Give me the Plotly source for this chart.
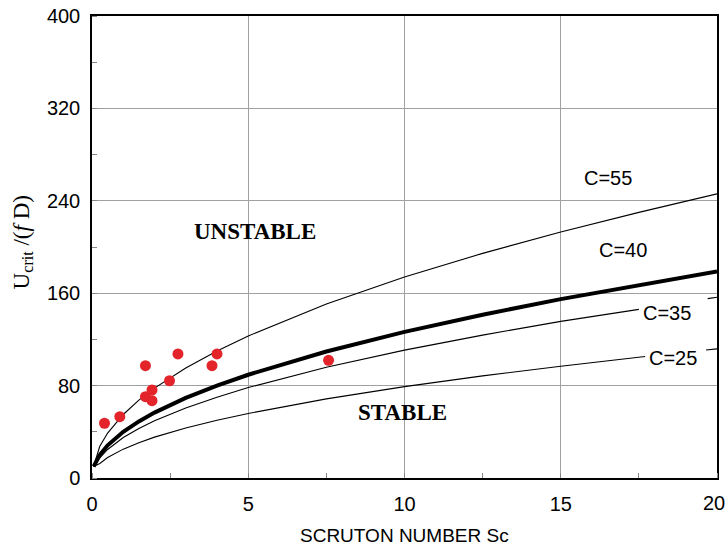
import plotly.graph_objects as go

# Curve data
x_full = [0.05, 0.25, 0.5, 1, 1.5, 2, 3, 4, 5, 7.5, 10, 12.5, 15, 17.5, 20]
c55_y = [10, 27.5, 38.9, 55, 67.4, 77.8, 95.3, 110, 123, 150.6, 174, 194.5, 213, 230, 246]
c40_y = [10, 20, 28.3, 40, 49, 56.6, 69.3, 80, 89.4, 109.5, 126.5, 141.4, 154.9, 167.3, 178.9]

x_c35 = [0.05, 0.25, 0.5, 1, 1.5, 2, 3, 4, 5, 7.5, 10, 12.5, 15, 17.5]
c35_y = [10, 17.5, 24.7, 35, 42.9, 49.5, 60.6, 70, 78.3, 95.9, 110.7, 123.7, 135.6, 146]
x_c35_stub = [19.7, 20]
c35_stub_y = [155.3, 156.5]

x_c25 = [0.05, 0.25, 0.5, 1, 1.5, 2, 3, 4, 5, 7.5, 10, 12.5, 15, 17.7]
c25_y = [10, 12.5, 17.7, 25, 30.6, 35.4, 43.3, 50, 55.9, 68.5, 79.1, 88.4, 96.8, 105.2]
x_c25_stub = [19.65, 20]
c25_stub_y = [110.8, 111.8]

# Measured points
pts_x = [0.40, 0.89, 1.71, 1.71, 1.92, 1.92, 2.48, 2.75, 3.84, 4.00, 7.57]
pts_y = [47.4, 53.1, 97.2, 70.4, 76.2, 66.9, 84.2, 107.4, 97.2, 107.4, 101.9]

x_ticks = [0, 5, 10, 15]
x_last_tick = 20
y_ticks = [0, 80, 160, 240, 320, 400]

curve_labels = ["C=55", "C=40", "C=35", "C=25"]
label_x = [16.5, 17.0, 18.4, 18.6]
label_y = [259.7, 197.4, 142.9, 104]

fig = go.Figure()

def line(x, y, w):
    fig.add_trace(go.Scatter(x=x, y=y, mode="lines",
                             line=dict(color="black", width=w),
                             hoverinfo="skip", showlegend=False))

line(x_full, c55_y, 1.1)
line(x_c35, c35_y, 1.1)
line(x_c35_stub, c35_stub_y, 1.1)
line(x_c25, c25_y, 1.1)
line(x_c25_stub, c25_stub_y, 1.1)
line(x_full, c40_y, 4)

fig.add_trace(go.Scatter(x=pts_x, y=pts_y, mode="markers",
                         marker=dict(color="#e3242b", size=11),
                         showlegend=False))

for t, lx, ly in zip(curve_labels, label_x, label_y):
    fig.add_annotation(x=lx, y=ly, text=t, showarrow=False,
                       font=dict(family="Liberation Sans, Arial", size=20, color="black"),
                       xanchor="center", yanchor="middle")

fig.add_annotation(x=5.22, y=213, text="<b>UNSTABLE</b>", showarrow=False,
                   font=dict(family="Liberation Serif, Times New Roman", size=23, color="black"))
fig.add_annotation(x=9.95, y=57, text="<b>STABLE</b>", showarrow=False,
                   font=dict(family="Liberation Serif, Times New Roman", size=23, color="black"))

# last x tick label (sits partly past the plot edge)
fig.add_annotation(x=x_last_tick, y=0, text=str(x_last_tick), showarrow=False,
                   xanchor="center", yanchor="middle", xshift=-3, yshift=-25,
                   font=dict(family="Liberation Sans, Arial", size=20, color="black"))

# axis titles
fig.add_annotation(xref="paper", yref="paper", x=(23 - 92) / 625, y=0.51,
                   text="U<sub>crit</sub> /(<i>f</i> D)", textangle=-90, showarrow=False,
                   font=dict(family="Liberation Serif, Times New Roman", size=23, color="black"),
                   xanchor="center", yanchor="middle")
fig.add_annotation(xref="paper", yref="paper", x=0.5, y=(478 - 535) / 462,
                   text="SCRUTON NUMBER Sc", showarrow=False,
                   font=dict(family="Liberation Sans, Arial", size=19, color="black"),
                   xanchor="center", yanchor="middle")

fig.update_layout(
    width=727, height=546,
    margin=dict(l=92, r=10, t=16, b=68, autoexpand=False),
    paper_bgcolor="white", plot_bgcolor="white",
    font=dict(family="Liberation Sans, Arial", size=20, color="black"),
    xaxis=dict(range=[0, 20], tickvals=x_ticks + [x_last_tick], ticktext=[str(v) for v in x_ticks] + [""],
               showgrid=True, gridcolor="#a0a0a0", gridwidth=1,
               showline=True, linecolor="black", linewidth=1.5, mirror=True,
               ticks="", ticklabelstandoff=7, zeroline=False,
               minor=dict(ticks="inside", ticklen=5, tickcolor="#888888", dtick=2.5, tick0=0, showgrid=False)),
    yaxis=dict(range=[0, 400], tickvals=y_ticks, showgrid=True, gridcolor="#a0a0a0", gridwidth=1,
               showline=True, linecolor="black", linewidth=1.5, mirror=True,
               ticks="", ticklabelstandoff=6, zeroline=False,
               minor=dict(ticks="inside", ticklen=5, tickcolor="#888888", dtick=40, tick0=0, showgrid=False)),
)

fig.write_html("out.html")
